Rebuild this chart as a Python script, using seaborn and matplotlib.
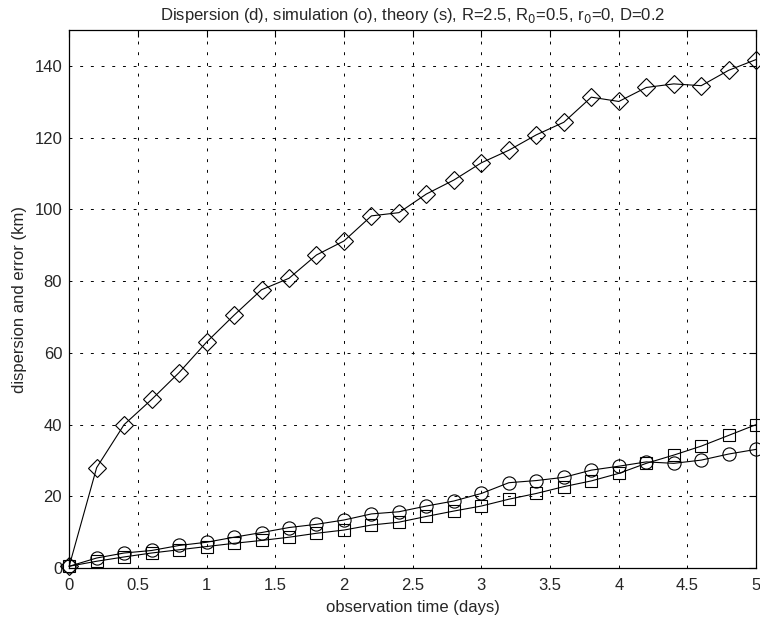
import numpy as np
import pandas as pd
import matplotlib
matplotlib.use("Agg")
import matplotlib.pyplot as plt
import seaborn as sns

# observation times (days)
time_days = [0.0, 0.2, 0.4, 0.6, 0.8, 1.0, 1.2, 1.4, 1.6, 1.8, 2.0, 2.2, 2.4,
             2.6, 2.8, 3.0, 3.2, 3.4, 3.6, 3.8, 4.0, 4.2, 4.4, 4.6, 4.8, 5.0]

# dispersion (d) - diamonds
dispersion = [0.5, 28.0, 40.0, 47.0, 54.5, 63.0, 70.5, 77.6, 80.8, 87.3, 91.2, 98.2, 99.1,
              104.3, 108.2, 113.0, 116.5, 120.8, 124.3, 131.3, 130.1, 134.0, 135.0, 134.5, 138.8, 141.8]

# simulation (o) - circles
simulation = [0.5, 2.8, 4.2, 4.9, 6.3, 7.2, 8.6, 9.9, 11.3, 12.2, 13.4, 15.1, 15.7,
              17.3, 18.7, 20.8, 23.8, 24.4, 25.3, 27.3, 28.4, 29.6, 29.2, 30.1, 31.8, 33.1]

# theory (s) - squares
theory = [0.5, 1.9, 3.1, 4.2, 5.1, 6.0, 6.9, 7.7, 8.6, 9.7, 10.6, 12.0, 12.8,
          14.4, 15.9, 17.3, 19.2, 20.8, 22.7, 24.3, 26.4, 29.2, 31.5, 34.0, 37.0, 40.0]

x_ticklabels = ["0", "0.5", "1", "1.5", "2", "2.5", "3", "3.5", "4", "4.5", "5"]

df = pd.DataFrame({"t": time_days, "d": dispersion, "o": simulation, "s": theory})

sns.set_style("white")
plt.rcParams["font.family"] = ["Liberation Sans", "DejaVu Sans"]

fig = plt.figure(figsize=(7.6, 6.27), dpi=100)
ax = fig.add_axes([0.091, 0.094, 0.904, 0.858])

series = [("d", "D", 9.5), ("o", "o", 9.5), ("s", "s", 9)]
for col, mk, ms in series:
    sns.lineplot(data=df, x="t", y=col, ax=ax, color="black", linewidth=0.8,
                 marker=mk, markersize=ms, markerfacecolor="none",
                 markeredgecolor="black", markeredgewidth=0.8, clip_on=False)

ax.set_xlim(0, 5)
ax.set_ylim(0, 150)
ax.set_xticks(np.arange(0, 5.01, 0.5))
ax.set_xticklabels(x_ticklabels)
ax.set_yticks(np.arange(0, 141, 20))
ax.grid(True, color="black", linestyle=(0, (3, 8)), linewidth=0.7)
ax.tick_params(direction="in", length=5, width=0.8, labelsize=12, color="black",
               top=True, right=True)
ax.tick_params(axis="x", pad=7)
ax.tick_params(axis="y", pad=5)
for sp in ax.spines.values():
    sp.set_color("black")
    sp.set_linewidth(0.9)

ax.set_xlabel("observation time (days)", fontsize=12, labelpad=5)
ax.set_ylabel("dispersion and error (km)", fontsize=12, labelpad=5)
ax.set_title("Dispersion (d), simulation (o), theory (s), R=2.5, R$_0$=0.5, r$_0$=0, D=0.2",
             fontsize=12, pad=7)

fig.savefig("out.png", dpi=100)
